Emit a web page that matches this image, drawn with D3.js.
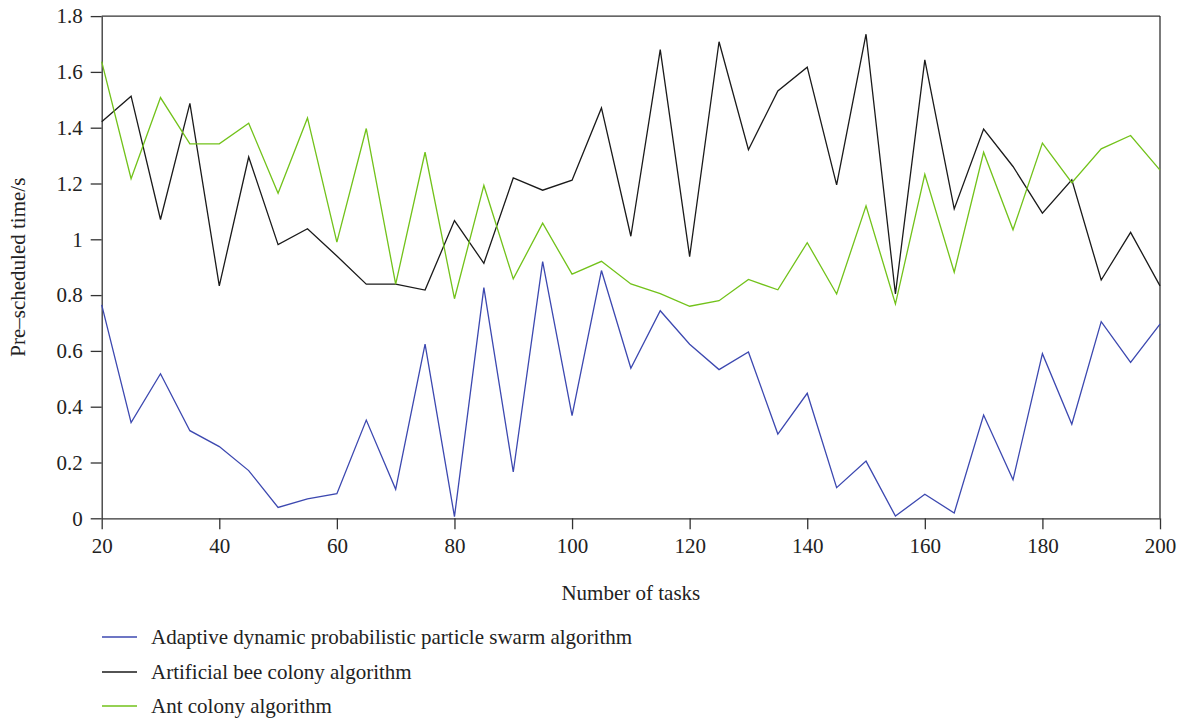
<!DOCTYPE html>
<html>
<head>
<meta charset="utf-8">
<script src="https://cdn.jsdelivr.net/npm/d3@7"></script>
<style>
  html, body { margin: 0; padding: 0; background: #fff; }
  svg { display: block; font-family: "Liberation Serif", "DejaVu Serif", serif; }
</style>
</head>
<body>
<svg id="chart" width="1181" height="720"></svg>
<script>
const tasks = [20,25,30,35,40,45,50,55,60,65,70,75,80,85,90,95,100,105,110,115,120,125,130,135,140,145,150,155,160,165,170,175,180,185,190,195,200];

const adpso = [0.765,0.343,0.518,0.314,0.257,0.171,0.039,0.070,0.088,0.352,0.104,0.624,0.006,0.827,0.166,0.920,0.368,0.888,0.538,0.744,0.624,0.533,0.596,0.302,0.448,0.110,0.205,0.008,0.086,0.019,0.370,0.138,0.590,0.337,0.705,0.559,0.696];

const abc = [1.421,1.513,1.071,1.487,0.833,1.295,0.981,1.038,0.940,0.839,0.839,0.818,1.067,0.914,1.220,1.176,1.212,1.471,1.011,1.680,0.938,1.708,1.321,1.532,1.617,1.195,1.735,0.804,1.643,1.109,1.395,1.261,1.094,1.213,0.854,1.025,0.833];

const aco = [1.637,1.217,1.508,1.342,1.342,1.416,1.165,1.435,0.990,1.397,0.839,1.312,0.787,1.193,0.858,1.058,0.875,0.921,0.840,0.805,0.760,0.780,0.856,0.819,0.988,0.804,1.120,0.768,1.233,0.882,1.312,1.034,1.345,1.203,1.324,1.372,1.248];

const seriesNames = ["Adaptive dynamic probabilistic particle swarm algorithm","Artificial bee colony algorithm","Ant colony algorithm"];
const seriesColors = ["#3c48b0","#1a1a1a","#72c21a"];

const xTicks = [20,40,60,80,100,120,140,160,180,200];
const yTicks = [0,0.2,0.4,0.6,0.8,1,1.2,1.4,1.6,1.8];

const svg = d3.select("#chart");
const mLeft = 101.7, mRight = 1160, mTop = 16.1, mBottom = 518.3;

const x = d3.scaleLinear().domain([20,200]).range([mLeft,mRight]);
const y = d3.scaleLinear().domain([0,1.8]).range([mBottom,mTop]);

const axisColor = "#333";
const fontSize = 21;

// frame: top and right
svg.append("line").attr("x1",mLeft).attr("x2",mRight).attr("y1",mTop).attr("y2",mTop)
  .attr("stroke",axisColor).attr("stroke-width",1.3);
svg.append("line").attr("x1",mRight).attr("x2",mRight).attr("y1",mTop).attr("y2",mBottom)
  .attr("stroke",axisColor).attr("stroke-width",1.3);

const fmt = d => (d === 0 ? "0" : (Number.isInteger(d) ? String(d) : d.toFixed(1)));

const xAxis = svg.append("g").attr("transform",`translate(0,${mBottom})`)
  .call(d3.axisBottom(x).tickValues(xTicks).tickSize(11).tickPadding(9).tickSizeOuter(0).tickFormat(d3.format("d")));
const yAxis = svg.append("g").attr("transform",`translate(${mLeft},0)`)
  .call(d3.axisLeft(y).tickValues(yTicks).tickSize(11).tickPadding(8).tickSizeOuter(0).tickFormat(fmt));

[xAxis,yAxis].forEach(g => {
  g.selectAll("path.domain").attr("stroke",axisColor).attr("stroke-width",1.3);
  g.selectAll(".tick line").attr("stroke",axisColor).attr("stroke-width",1.3);
  g.selectAll(".tick text").attr("fill","#222").style("font-size",fontSize+"px")
    .style("font-family",'"Liberation Serif", serif');
});

const data = [adpso, abc, aco];
const line = d3.line().x((d,i) => x(tasks[i])).y(d => y(d));

data.forEach((vals,k) => {
  svg.append("path").datum(vals)
    .attr("fill","none")
    .attr("stroke",seriesColors[k])
    .attr("stroke-width",1.3)
    .attr("stroke-linejoin","miter")
    .attr("d",line);
});

// axis titles
svg.append("text").attr("x",(mLeft+mRight)/2).attr("y",600)
  .attr("text-anchor","middle").attr("fill","#222").style("font-size",fontSize+"px")
  .text("Number of tasks");
svg.append("text").attr("transform",`translate(25,${(mTop+mBottom)/2}) rotate(-90)`)
  .attr("text-anchor","middle").attr("fill","#222").style("font-size",fontSize+"px")
  .text("Pre\u2013scheduled time/s");

// legend
const legY = [637, 672, 706];
seriesNames.forEach((name,k) => {
  svg.append("line").attr("x1",102).attr("x2",137).attr("y1",legY[k]).attr("y2",legY[k])
    .attr("stroke",seriesColors[k]).attr("stroke-width",1.3);
  svg.append("text").attr("x",151).attr("y",legY[k]).attr("dy","0.35em")
    .attr("fill","#222").style("font-size",fontSize+"px").text(name);
});
</script>
</body>
</html>
